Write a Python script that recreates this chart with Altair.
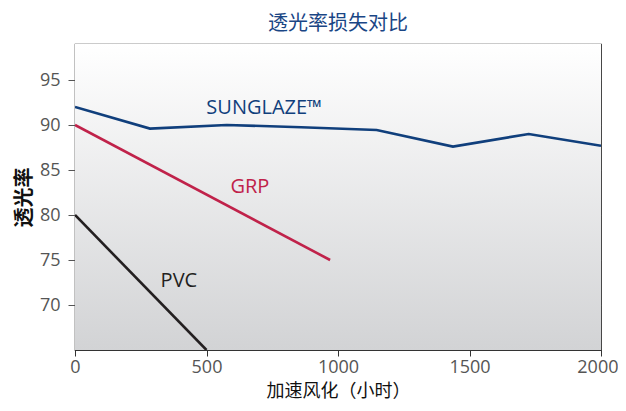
import altair as alt
import pandas as pd

sunglaze_x = [0, 285, 577, 860, 1147, 1437, 1725, 2000]
sunglaze_y = [92.0, 89.6, 90.0, 89.75, 89.45, 87.6, 89.0, 87.7]
grp_x = [0, 970]
grp_y = [90.0, 75.0]
pvc_x = [0, 500]
pvc_y = [80.0, 65.0]

label_text = ["SUNGLAZE™", "GRP", "PVC"]
label_x = [720, 665, 395]
label_y = [91.9, 83.1, 72.7]

x_ticks = [0, 500, 1000, 1500, 2000]
y_ticks = [70, 75, 80, 85, 90, 95]

series_names = ["SUNGLAZE", "GRP", "PVC"]
series_colors = ["#103f7c", "#c0224a", "#231f20"]

rows = []
for n, xs, ys in zip(series_names, [sunglaze_x, grp_x, pvc_x], [sunglaze_y, grp_y, pvc_y]):
    for i, (a, b) in enumerate(zip(xs, ys)):
        rows.append({"series": n, "hours": a, "value": b, "order": i})
df = pd.DataFrame(rows)
lab = pd.DataFrame({"text": label_text, "hours": label_x, "value": label_y, "series": series_names})

W, H = 526, 306
xs = alt.Scale(domain=[0, 2000], nice=False)
ys = alt.Scale(domain=[65, 99], nice=False)
cs = alt.Scale(domain=series_names, range=series_colors)

bg = alt.Chart(pd.DataFrame({"a": [0]})).mark_rect(
    color=alt.LinearGradient(
        gradient="linear", x1=0, y1=0, x2=0, y2=1,
        stops=[alt.GradientStop(offset=0, color="#ffffff"),
               alt.GradientStop(offset=1, color="#d2d3d5")]
    )
).encode(x=alt.value(0), x2=alt.value(W), y=alt.value(0), y2=alt.value(H))

lines = alt.Chart(df).mark_line(strokeWidth=2.6, clip=True).encode(
    x=alt.X("hours:Q", scale=xs,
            axis=alt.Axis(title="加速风化（小时）", values=x_ticks,
                          format="d",
                          grid=False, tickSize=6, tickColor="#333", domainColor="#333",
                          labelColor="#555", labelFontSize=18, labelFont="Open Sans",
                          labelAlign={"condition": {"test": "datum.value === 2000", "value": "right"},
                                      "value": "center"},
                          labelOffset={"condition": {"test": "datum.value === 2000", "value": 17},
                                       "value": 0},
                          titleFontSize=18, titleFont="Noto Sans CJK SC", titleFontWeight="normal",
                          titleColor="#111", labelPadding=2, titlePadding=6,
                          labelFlush=False)),
    y=alt.Y("value:Q", scale=ys,
            axis=alt.Axis(title="透光率", values=y_ticks,
                          grid=True, gridColor="#555", gridWidth=1.2, tickSize=7,
                          tickColor="#555", domain=False, labelColor="#555",
                          labelFontSize=18, labelFont="Open Sans", labelPadding=8,
                          titleFontSize=20, titleFont="Noto Sans CJK SC",
                          titleFontWeight="bold", titleColor="#111", titlePadding=5)),
    color=alt.Color("series:N", scale=cs, legend=None),
    detail="series:N",
    order="order:Q",
)

labels = alt.Chart(lab).mark_text(fontSize=20, font="Open Sans").encode(
    x=alt.X("hours:Q", scale=xs),
    y=alt.Y("value:Q", scale=ys),
    text="text:N",
    color=alt.Color("series:N", scale=cs, legend=None),
)

chart = alt.layer(bg, lines, labels).properties(
    width=W, height=H,
    autosize=alt.AutoSizeParams(type="none"),
    padding={"left": 67, "top": 36, "right": 17, "bottom": 53},
    title=alt.Title("透光率损失对比", font="Noto Sans CJK SC", fontSize=20,
                    fontWeight="normal", color="#1a4685", offset=10),
).configure_view(stroke="#333", strokeWidth=1.2)

chart.save("out.html", embed_options={"renderer": "svg", "actions": False})
